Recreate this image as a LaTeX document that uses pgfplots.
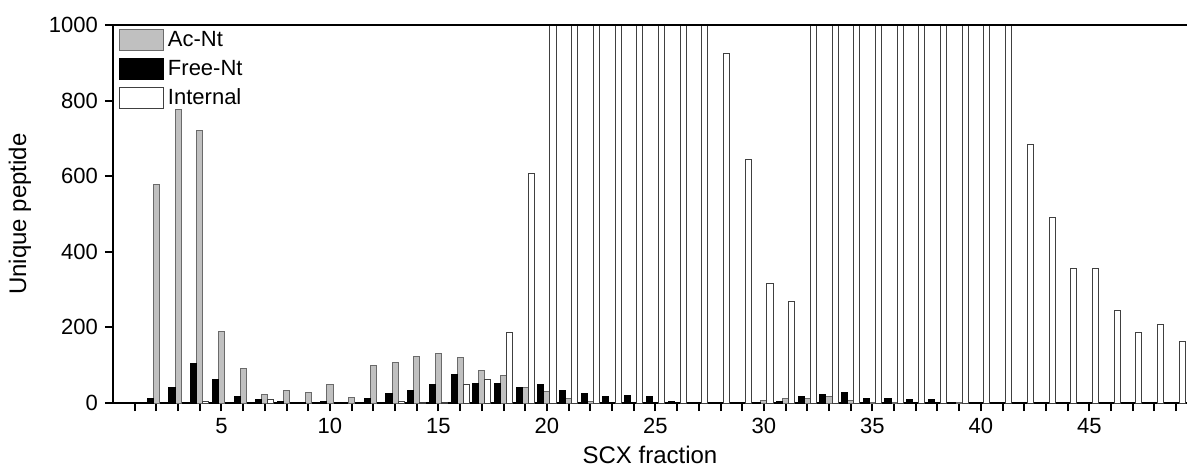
\documentclass[border=0pt]{standalone}
\usepackage{fontspec}
\setmainfont{Liberation Sans}
\usepackage{pgfplots}
\pgfplotsset{compat=1.18}

\definecolor{acfill}{HTML}{C0C0C0}
\definecolor{acedge}{HTML}{6A6A6A}
\pgfplotsset{boxlegend/.style={legend image code/.code={%
    \draw[##1] (0pt,-5.25pt) rectangle (21.8pt,5.25pt);}}}

\begin{document}
\begin{tikzpicture}
\begin{axis}[
    name=ax,
    width=537pt, height=189pt, scale only axis,
    xmin=0, xmax=49.5, ymin=0, ymax=1000,
    ybar, bar width=0.28,
    axis x line*=bottom, axis y line*=left,
    axis line style={line width=1pt},
    xtick={5,10,...,45}, minor xtick={1,...,49},
    ytick={0,200,...,1000},
    tick align=outside, major tick length=4pt, minor tick length=4pt,
    every tick/.style={black, line width=1pt},
    tick label style={font=\fontsize{11pt}{13pt}\selectfont},
    /pgf/number format/assume math mode=true,
    /pgf/number format/1000 sep={},
    xlabel={SCX fraction}, ylabel={Unique peptide},
    label style={font=\fontsize{12pt}{14pt}\selectfont},
    xlabel style={at={(axis description cs:0.5,-0.1376)}, anchor=center},
    ylabel style={at={(axis description cs:-0.0866,0.5)}, anchor=center},
    legend style={draw=none, fill=none, at={(0,1)}, anchor=north west,
        xshift=2pt, yshift=0pt, inner sep=1pt,
        font=\fontsize{11pt}{12pt}\selectfont, row sep=1.2pt},
    legend cell align=left,
]
% Ac-Nt
\addplot[fill=acfill, draw=acedge, line width=0.5pt, bar shift=0, boxlegend]
coordinates {
(2,578)(3,777)(4,722)(5,190)(6,90)(7,23)(8,34)(9,28)(10,49)(11,14)
(12,99)(13,106)(14,122)(15,131)(16,120)(17,86)(18,73)(19,42)(20,31)
(21,12)(22,5)(30,7)(31,12)(32,13)(33,16)(34,6)(35,1)(36,2)(39,2)
};
% Free-Nt
\addplot[fill=black, draw=black, line width=0.5pt, bar shift=-0.28, boxlegend]
coordinates {
(2,12)(3,41)(4,105)(5,63)(6,17)(7,10)(8,3)(9,1)(10,5)(12,11)(13,26)
(14,34)(15,49)(16,75)(17,52)(18,52)(19,41)(20,48)(21,33)(22,26)(23,18)
(24,21)(25,17)(26,4)(30,1)(31,4)(32,17)(33,22)(34,29)(35,12)(36,13)
(37,8)(38,10)
};
% Internal (bars above 1000 are cut by the axis)
\addplot[fill=white, draw=black!75, line width=0.5pt, bar shift=0.28, boxlegend]
coordinates {
(4,5)(7,8)(13,5)(14,1)(15,1)(16,48)(17,63)(18,187)(19,606)
(20,1200)(21,1200)(22,1200)(23,1200)(24,1200)(25,1200)(26,1200)(27,1200)
(28,925)(29,643)(30,317)(31,268)
(32,1200)(33,1200)(34,1200)(35,1200)(36,1200)(37,1200)(38,1200)(39,1200)
(40,1200)(41,1200)
(42,685)(43,492)(44,357)(45,355)(46,245)(47,187)(48,207)(49,162)
};
\legend{Ac-Nt, Free-Nt, Internal}
\end{axis}
\draw[line width=1pt] (ax.north west) -- (ax.north east);
\pgfresetboundingbox
\path ([xshift=-56.5pt,yshift=-34.5pt]ax.south west) rectangle ([yshift=12.5pt]ax.north east);
\end{tikzpicture}
\end{document}
